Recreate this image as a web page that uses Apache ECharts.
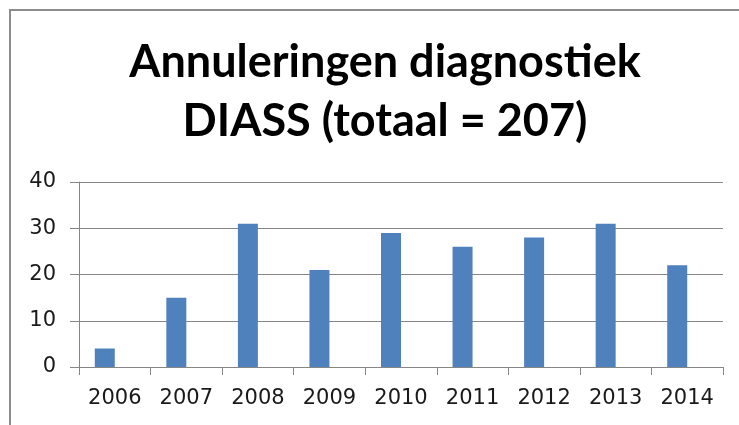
<!DOCTYPE html>
<html>
<head>
<meta charset="utf-8">
<script src="https://cdn.jsdelivr.net/npm/echarts@6/dist/echarts.min.js"></script>
<style>
    html, body { margin: 0; padding: 0; background: #fff; }
    #chart { width: 739px; height: 425px; }
</style>
</head>
<body>
<div id="chart"></div>
<script>
var years = ['2006', '2007', '2008', '2009', '2010', '2011', '2012', '2013', '2014'];
var annuleringen = [4, 15, 31, 21, 29, 26, 28, 31, 22];
var yTicks = [0, 10, 20, 30, 40];

var chart = echarts.init(document.getElementById('chart'));

var option = {
    backgroundColor: '#fff',
    animation: false,
    title: {
        text: 'Annuleringen diagnostiek\nDIASS (totaal = 207)',
        left: 380,
        textAlign: 'center',
        top: 28,
        textStyle: {
            fontFamily: 'Lato',
            fontWeight: 'bold',
            fontSize: 45,
            lineHeight: 59,
            color: '#000'
        }
    },
    graphic: [{
        type: 'polyline',
        shape: { points: [[10, 425], [10, 10], [739, 10]] },
        style: { stroke: '#8c8c8c', lineWidth: 2, fill: null }
    }],
    grid: {
        left: 79,
        right: 16,
        top: 182,
        bottom: 58
    },
    xAxis: {
        type: 'category',
        data: years,
        axisLine: { lineStyle: { color: '#868686', width: 1 } },
        axisTick: { show: true, length: 8, lineStyle: { color: '#868686' } },
        axisLabel: {
            margin: 21,
            fontFamily: 'DejaVu Sans',
            fontSize: 21,
            color: '#1a1a1a'
        }
    },
    yAxis: {
        type: 'value',
        min: yTicks[0],
        max: yTicks[yTicks.length - 1],
        interval: 10,
        axisLine: { show: true, lineStyle: { color: '#868686', width: 1 } },
        axisTick: { show: true, length: 9, lineStyle: { color: '#868686' } },
        splitLine: { lineStyle: { color: '#868686', width: 1 } },
        axisLabel: {
            margin: 23,
            fontFamily: 'DejaVu Sans',
            fontSize: 21,
            color: '#1a1a1a'
        }
    },
    series: [{
        name: 'Annuleringen',
        type: 'bar',
        data: annuleringen,
        barWidth: 20,
        barGap: '0%',
        itemStyle: { color: '#4f81bd' }
    }, {
        // lege tweede reeks, zoals in het origineel, schuift de staven naar links
        name: 'leeg',
        type: 'bar',
        data: [],
        barWidth: 20
    }]
};

chart.setOption(option);
</script>
</body>
</html>
